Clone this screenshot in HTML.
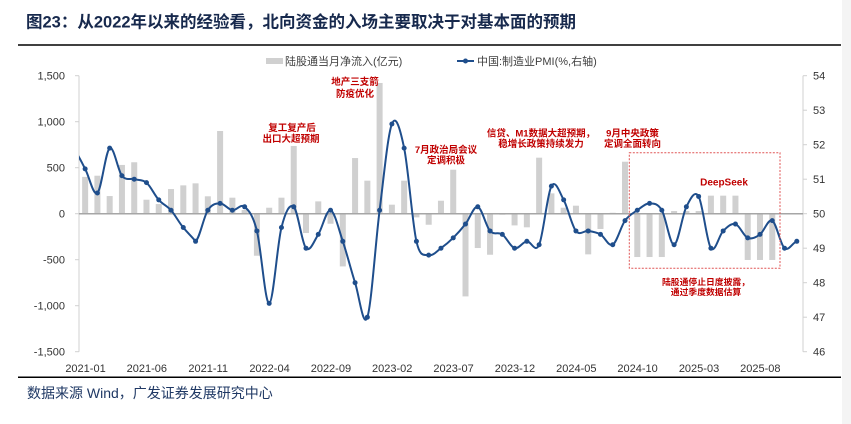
<!DOCTYPE html>
<html><head><meta charset="utf-8"><style>
html,body{margin:0;padding:0;background:#fff;}
svg{display:block;}
text{font-family:"Liberation Sans","Noto Sans CJK SC",sans-serif;}
</style></head><body>
<svg width="851" height="424" viewBox="0 0 851 424" xmlns="http://www.w3.org/2000/svg">
<rect x="0" y="0" width="851" height="424" fill="#fff"/>
<rect x="842" y="0" width="9" height="424" fill="#f4f4f4"/>
<text x="26" y="27.5" font-size="16.5" font-weight="700" fill="#17294d">图23：从2022年以来的经验看，北向资金的入场主要取决于对基本面的预期</text>
<line x1="18" y1="45" x2="841" y2="45" stroke="#000" stroke-width="1.5"/>
<line x1="18" y1="377.3" x2="841" y2="377.3" stroke="#000" stroke-width="1.5"/>
<text x="27" y="398" font-size="14" fill="#1f3864">数据来源 Wind，广发证券发展研究中心</text>

<!-- legend -->
<rect x="266" y="58" width="17" height="6" fill="#d0d0d0"/>
<text x="285" y="65" font-size="11" fill="#404040">陆股通当月净流入(亿元)</text>
<line x1="457" y1="61" x2="474" y2="61" stroke="#1f4e8c" stroke-width="2"/>
<circle cx="465.5" cy="61" r="2.5" fill="#1f4e8c"/>
<text x="477" y="65" font-size="11" fill="#404040">中国:制造业PMI(%,右轴)</text>

<!-- axes -->
<g stroke="#d0d0d0" stroke-width="1">
<line x1="79" y1="75.7" x2="79" y2="351.7"/>
<line x1="75" y1="75.7" x2="79" y2="75.7"/><line x1="75" y1="121.7" x2="79" y2="121.7"/><line x1="75" y1="167.7" x2="79" y2="167.7"/><line x1="75" y1="213.7" x2="79" y2="213.7"/><line x1="75" y1="259.7" x2="79" y2="259.7"/><line x1="75" y1="305.7" x2="79" y2="305.7"/><line x1="75" y1="351.7" x2="79" y2="351.7"/>
<line x1="803" y1="75.7" x2="803" y2="351.7"/>
<line x1="803" y1="75.7" x2="807" y2="75.7"/><line x1="803" y1="110.2" x2="807" y2="110.2"/><line x1="803" y1="144.7" x2="807" y2="144.7"/><line x1="803" y1="179.2" x2="807" y2="179.2"/><line x1="803" y1="213.7" x2="807" y2="213.7"/><line x1="803" y1="248.2" x2="807" y2="248.2"/><line x1="803" y1="282.7" x2="807" y2="282.7"/><line x1="803" y1="317.2" x2="807" y2="317.2"/><line x1="803" y1="351.7" x2="807" y2="351.7"/>
</g>
<g font-size="11" fill="#333" text-anchor="end">
<text x="65" y="79.7">1,500</text><text x="65" y="125.7">1,000</text><text x="65" y="171.7">500</text><text x="65" y="217.7">0</text><text x="65" y="263.7">-500</text><text x="65" y="309.7">-1,000</text><text x="65" y="355.7">-1,500</text>
</g>
<g font-size="11" fill="#333">
<text x="813" y="79.7">54</text><text x="813" y="114.2">53</text><text x="813" y="148.7">52</text><text x="813" y="183.2">51</text><text x="813" y="217.7">50</text><text x="813" y="252.2">49</text><text x="813" y="286.7">48</text><text x="813" y="321.2">47</text><text x="813" y="355.7">46</text>
</g>
<g font-size="11" fill="#333" text-anchor="middle">
<text x="85.5" y="372">2021-01</text><text x="146.8" y="372">2021-06</text><text x="208.2" y="372">2021-11</text><text x="269.5" y="372">2022-04</text><text x="330.9" y="372">2022-09</text><text x="392.2" y="372">2023-02</text><text x="453.6" y="372">2023-07</text><text x="514.9" y="372">2023-12</text><text x="576.3" y="372">2024-05</text><text x="637.6" y="372">2024-10</text><text x="699" y="372">2025-03</text><text x="760.3" y="372">2025-08</text>
</g>

<!-- bars -->
<g transform="translate(85.135,213.7) scale(12.27,-0.092)" fill="#d0d0d0">
<rect x="-0.245" y="0" width="0.49" height="400"/>
<rect x="0.755" y="0" width="0.49" height="413"/>
<rect x="1.755" y="0" width="0.49" height="192"/>
<rect x="2.755" y="0" width="0.49" height="530"/>
<rect x="3.755" y="0" width="0.49" height="559"/>
<rect x="4.755" y="0" width="0.49" height="152"/>
<rect x="5.755" y="0" width="0.49" height="105"/>
<rect x="6.755" y="0" width="0.49" height="268"/>
<rect x="7.755" y="0" width="0.49" height="308"/>
<rect x="8.755" y="0" width="0.49" height="330"/>
<rect x="9.755" y="0" width="0.49" height="189"/>
<rect x="10.755" y="0" width="0.49" height="899"/>
<rect x="11.755" y="0" width="0.49" height="174"/>
<rect x="12.755" y="0" width="0.49" height="40"/>
<rect x="13.755" y="-457" width="0.49" height="457"/>
<rect x="14.755" y="0" width="0.49" height="65"/>
<rect x="15.755" y="0" width="0.49" height="174"/>
<rect x="16.755" y="0" width="0.49" height="736"/>
<rect x="17.755" y="-210" width="0.49" height="210"/>
<rect x="18.755" y="0" width="0.49" height="134"/>
<rect x="19.755" y="-109" width="0.49" height="109"/>
<rect x="20.755" y="-573" width="0.49" height="573"/>
<rect x="21.755" y="0" width="0.49" height="605"/>
<rect x="22.755" y="0" width="0.49" height="359"/>
<rect x="23.755" y="0" width="0.49" height="1421"/>
<rect x="24.755" y="0" width="0.49" height="98"/>
<rect x="25.755" y="0" width="0.49" height="359"/>
<rect x="26.755" y="-40" width="0.49" height="40"/>
<rect x="27.755" y="-120" width="0.49" height="120"/>
<rect x="28.755" y="0" width="0.49" height="141"/>
<rect x="29.755" y="0" width="0.49" height="478"/>
<rect x="30.755" y="-899" width="0.49" height="899"/>
<rect x="31.755" y="-373" width="0.49" height="373"/>
<rect x="32.755" y="-446" width="0.49" height="446"/>
<rect x="33.755" y="-11" width="0.49" height="11"/>
<rect x="34.755" y="-127" width="0.49" height="127"/>
<rect x="35.755" y="-148" width="0.49" height="148"/>
<rect x="36.755" y="0" width="0.49" height="609"/>
<rect x="37.755" y="0" width="0.49" height="221"/>
<rect x="38.755" y="0" width="0.49" height="65"/>
<rect x="39.755" y="0" width="0.49" height="87"/>
<rect x="40.755" y="-442" width="0.49" height="442"/>
<rect x="41.755" y="-166" width="0.49" height="166"/>
<rect x="42.755" y="0" width="0.49" height="10"/>
<rect x="43.755" y="0" width="0.49" height="565"/>
<rect x="44.755" y="-471" width="0.49" height="471"/>
<rect x="45.755" y="-471" width="0.49" height="471"/>
<rect x="46.755" y="-471" width="0.49" height="471"/>
<rect x="47.755" y="0" width="0.49" height="29"/>
<rect x="48.755" y="0" width="0.49" height="29"/>
<rect x="49.755" y="0" width="0.49" height="29"/>
<rect x="50.755" y="0" width="0.49" height="196"/>
<rect x="51.755" y="0" width="0.49" height="196"/>
<rect x="52.755" y="0" width="0.49" height="196"/>
<rect x="53.755" y="-503" width="0.49" height="503"/>
<rect x="54.755" y="-503" width="0.49" height="503"/>
<rect x="55.755" y="-503" width="0.49" height="503"/>
</g>
<line x1="79" y1="213.7" x2="803" y2="213.7" stroke="#a6a6a6" stroke-width="1.5"/>

<!-- PMI line -->
<defs><clipPath id="cp"><rect x="79" y="40" width="724" height="330"/></clipPath></defs>
<g clip-path="url(#cp)">
<g transform="translate(85.135,213.7) scale(12.27,-34.5)">
<path vector-effect="non-scaling-stroke" fill="none" stroke="#1f4e8c" stroke-width="2" d="M-1,1.9 C-0.667,1.8 -0.333,1.517 0,1.3 C0.333,1.083 0.667,0.5 1,0.6 C1.333,0.7 1.667,1.817 2,1.9 C2.333,1.983 2.667,1.25 3,1.1 C3.333,0.95 3.667,1.033 4,1.0 C4.333,0.967 4.667,1.0 5,0.9 C5.333,0.8 5.667,0.533 6,0.4 C6.333,0.267 6.667,0.233 7,0.1 C7.333,-0.033 7.667,-0.267 8,-0.4 C8.333,-0.55 8.667,-0.65 9,-0.8 C9.333,-0.717 9.667,-0.083 10,0.1 C10.333,0.283 10.667,0.3 11,0.3 C11.333,0.3 11.667,0.117 12,0.1 C12.333,0.083 12.667,0.3 13,0.2 C13.333,0.1 13.667,-0.033 14,-0.5 C14.333,-0.967 14.667,-2.617 15,-2.6 C15.333,-2.583 15.667,-0.867 16,-0.4 C16.333,0.067 16.667,0.3 17,0.2 C17.333,0.1 17.667,-0.867 18,-1.0 C18.333,-1.133 18.667,-0.783 19,-0.6 C19.333,-0.417 19.667,0.133 20,0.1 C20.333,0.067 20.667,-0.45 21,-0.8 C21.333,-1.15 21.667,-1.633 22,-2.0 C22.333,-2.367 22.667,-3.35 23,-3.0 C23.333,-2.65 23.667,-0.833 24,0.1 C24.333,1.033 24.667,2.3 25,2.6 C25.333,2.9 25.667,2.467 26,1.9 C26.333,1.333 26.667,-0.283 27,-0.8 C27.333,-1.317 27.667,-1.167 28,-1.2 C28.333,-1.233 28.667,-1.083 29,-1.0 C29.333,-0.917 29.667,-0.817 30,-0.7 C30.333,-0.583 30.667,-0.45 31,-0.3 C31.333,-0.15 31.667,0.233 32,0.2 C32.333,0.167 32.667,-0.367 33,-0.5 C33.333,-0.633 33.667,-0.517 34,-0.6 C34.333,-0.683 34.667,-0.967 35,-1.0 C35.333,-1.033 35.667,-0.817 36,-0.8 C36.333,-0.783 36.667,-1.167 37,-0.9 C37.333,-0.633 37.667,0.583 38,0.8 C38.333,1.017 38.667,0.617 39,0.4 C39.333,0.183 39.667,-0.35 40,-0.5 C40.333,-0.65 40.667,-0.483 41,-0.5 C41.333,-0.517 41.667,-0.533 42,-0.6 C42.333,-0.667 42.667,-0.967 43,-0.9 C43.333,-0.833 43.667,-0.367 44,-0.2 C44.333,-0.033 44.667,0.017 45,0.1 C45.333,0.183 45.667,0.3 46,0.3 C46.333,0.3 46.667,0.3 47,0.1 C47.333,-0.1 47.667,-0.917 48,-0.9 C48.333,-0.883 48.667,-0.033 49,0.2 C49.333,0.433 49.667,0.7 50,0.5 C50.333,0.3 50.667,-0.833 51,-1.0 C51.333,-1.167 51.667,-0.617 52,-0.5 C52.333,-0.383 52.667,-0.267 53,-0.3 C53.333,-0.333 53.667,-0.65 54,-0.7 C54.333,-0.75 54.667,-0.683 55,-0.6 C55.333,-0.517 55.667,-0.133 56,-0.2 C56.333,-0.267 56.667,-0.9 57,-1.0 C57.333,-1.1 57.667,-0.833 58,-0.8"/>
<g fill="#1f4e8c">
<ellipse cx="0" cy="1.3" rx="0.204" ry="0.0725"/><ellipse cx="1" cy="0.6" rx="0.204" ry="0.0725"/><ellipse cx="2" cy="1.9" rx="0.204" ry="0.0725"/><ellipse cx="3" cy="1.1" rx="0.204" ry="0.0725"/><ellipse cx="4" cy="1.0" rx="0.204" ry="0.0725"/><ellipse cx="5" cy="0.9" rx="0.204" ry="0.0725"/><ellipse cx="6" cy="0.4" rx="0.204" ry="0.0725"/><ellipse cx="7" cy="0.1" rx="0.204" ry="0.0725"/><ellipse cx="8" cy="-0.4" rx="0.204" ry="0.0725"/><ellipse cx="9" cy="-0.8" rx="0.204" ry="0.0725"/>
<ellipse cx="10" cy="0.1" rx="0.204" ry="0.0725"/><ellipse cx="11" cy="0.3" rx="0.204" ry="0.0725"/><ellipse cx="12" cy="0.1" rx="0.204" ry="0.0725"/><ellipse cx="13" cy="0.2" rx="0.204" ry="0.0725"/><ellipse cx="14" cy="-0.5" rx="0.204" ry="0.0725"/><ellipse cx="15" cy="-2.6" rx="0.204" ry="0.0725"/><ellipse cx="16" cy="-0.4" rx="0.204" ry="0.0725"/><ellipse cx="17" cy="0.2" rx="0.204" ry="0.0725"/><ellipse cx="18" cy="-1.0" rx="0.204" ry="0.0725"/><ellipse cx="19" cy="-0.6" rx="0.204" ry="0.0725"/>
<ellipse cx="20" cy="0.1" rx="0.204" ry="0.0725"/><ellipse cx="21" cy="-0.8" rx="0.204" ry="0.0725"/><ellipse cx="22" cy="-2.0" rx="0.204" ry="0.0725"/><ellipse cx="23" cy="-3.0" rx="0.204" ry="0.0725"/><ellipse cx="24" cy="0.1" rx="0.204" ry="0.0725"/><ellipse cx="25" cy="2.6" rx="0.204" ry="0.0725"/><ellipse cx="26" cy="1.9" rx="0.204" ry="0.0725"/><ellipse cx="27" cy="-0.8" rx="0.204" ry="0.0725"/><ellipse cx="28" cy="-1.2" rx="0.204" ry="0.0725"/><ellipse cx="29" cy="-1.0" rx="0.204" ry="0.0725"/>
<ellipse cx="30" cy="-0.7" rx="0.204" ry="0.0725"/><ellipse cx="31" cy="-0.3" rx="0.204" ry="0.0725"/><ellipse cx="32" cy="0.2" rx="0.204" ry="0.0725"/><ellipse cx="33" cy="-0.5" rx="0.204" ry="0.0725"/><ellipse cx="34" cy="-0.6" rx="0.204" ry="0.0725"/><ellipse cx="35" cy="-1.0" rx="0.204" ry="0.0725"/><ellipse cx="36" cy="-0.8" rx="0.204" ry="0.0725"/><ellipse cx="37" cy="-0.9" rx="0.204" ry="0.0725"/><ellipse cx="38" cy="0.8" rx="0.204" ry="0.0725"/><ellipse cx="39" cy="0.4" rx="0.204" ry="0.0725"/>
<ellipse cx="40" cy="-0.5" rx="0.204" ry="0.0725"/><ellipse cx="41" cy="-0.5" rx="0.204" ry="0.0725"/><ellipse cx="42" cy="-0.6" rx="0.204" ry="0.0725"/><ellipse cx="43" cy="-0.9" rx="0.204" ry="0.0725"/><ellipse cx="44" cy="-0.2" rx="0.204" ry="0.0725"/><ellipse cx="45" cy="0.1" rx="0.204" ry="0.0725"/><ellipse cx="46" cy="0.3" rx="0.204" ry="0.0725"/><ellipse cx="47" cy="0.1" rx="0.204" ry="0.0725"/><ellipse cx="48" cy="-0.9" rx="0.204" ry="0.0725"/><ellipse cx="49" cy="0.2" rx="0.204" ry="0.0725"/>
<ellipse cx="50" cy="0.5" rx="0.204" ry="0.0725"/><ellipse cx="51" cy="-1.0" rx="0.204" ry="0.0725"/><ellipse cx="52" cy="-0.5" rx="0.204" ry="0.0725"/><ellipse cx="53" cy="-0.3" rx="0.204" ry="0.0725"/><ellipse cx="54" cy="-0.7" rx="0.204" ry="0.0725"/><ellipse cx="55" cy="-0.6" rx="0.204" ry="0.0725"/><ellipse cx="56" cy="-0.2" rx="0.204" ry="0.0725"/><ellipse cx="57" cy="-1.0" rx="0.204" ry="0.0725"/><ellipse cx="58" cy="-0.8" rx="0.204" ry="0.0725"/>
</g>
</g>
</g>

<!-- DeepSeek box -->
<rect x="629.3" y="152.7" width="150.7" height="115.6" fill="none" stroke="#e05555" stroke-width="1" stroke-dasharray="2 1.5"/>

<!-- annotations -->
<g font-size="9.5" font-weight="700" fill="#c00000" text-anchor="middle">
<text x="292" y="130.8">复工复产后</text>
<text x="291" y="142">出口大超预期</text>
<text x="355" y="85">地产三支箭</text>
<text x="355" y="96.8">防疫优化</text>
<text x="446" y="152.8">7月政治局会议</text>
<text x="446" y="163.6">定调积极</text>
<text x="541" y="136.6">信贷、M1数据大超预期，</text>
<text x="541" y="146.8">稳增长政策持续发力</text>
<text x="632.5" y="136.6">9月中央政策</text>
<text x="632.5" y="146.8">定调全面转向</text>
<text x="724" y="185.6" font-size="10">DeepSeek</text>
<text x="706" y="285" font-size="8.8">陆股通停止日度披露，</text>
<text x="706" y="295" font-size="8.8">通过季度数据估算</text>
</g>
</svg>
</body></html>
